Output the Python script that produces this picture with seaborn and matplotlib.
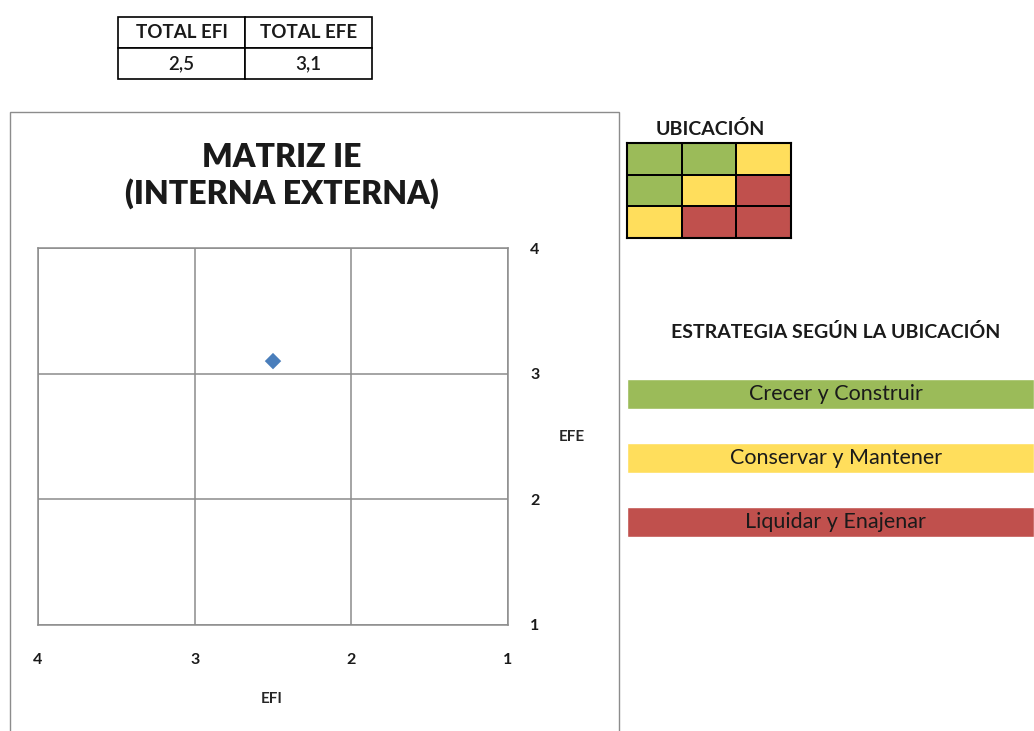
import numpy as np
import pandas as pd
import matplotlib
matplotlib.use("Agg")
import matplotlib.pyplot as plt
import seaborn as sns
from matplotlib.colors import ListedColormap
from matplotlib.patches import Rectangle

# data
total_efi = 2.5
total_efe = 3.1
table_headers = ["TOTAL EFI", "TOTAL EFE"]
table_values = ["2,5", "3,1"]
axis_ticks = [1, 2, 3, 4]
# 0 = crecer, 1 = conservar, 2 = liquidar
zone_codes = [[0, 0, 1],
              [0, 1, 2],
              [1, 2, 2]]
strategies = ["Crecer y Construir", "Conservar y Mantener", "Liquidar y Enajenar"]
zone_colors = ["#9BBB59", "#FFDE5C", "#C0504D"]

sns.set_theme(style="white")
plt.rcParams["font.family"] = ["Lato", "DejaVu Sans"]

W, H = 1034, 731
fig = plt.figure(figsize=(W / 100, H / 100), dpi=100)


def box(x0, y0, x1, y1):
    # pixel box (top-left origin) -> figure fraction
    return [x0 / W, 1 - y1 / H, (x1 - x0) / W, (y1 - y0) / H]


# chart frame
fig.patches.append(Rectangle((10 / W, -0.01), (619 - 10) / W, 1 - 112 / H + 0.01,
                             transform=fig.transFigure, fill=False,
                             edgecolor="#8c8c8c", linewidth=1.0))

# top table
tax = fig.add_axes(box(118, 17, 372, 79))
tax.axis("off")
tbl = tax.table(cellText=[table_headers, table_values], bbox=[0, 0, 1, 1], cellLoc="center")
tbl.auto_set_font_size(False)
for (r, c), cell in tbl.get_celld().items():
    cell.set_edgecolor("black")
    cell.set_linewidth(1.2)
    cell.get_text().set_fontsize(13.5)
    cell.get_text().set_color("#1a1a1a")
    if r == 0:
        cell.get_text().set_fontweight("bold")
    else:
        cell.get_text().set_fontweight("semibold")

# main IE matrix
ax = fig.add_axes(box(38, 248, 508, 625))
df = pd.DataFrame({"EFI": [total_efi], "EFE": [total_efe]})
sns.scatterplot(data=df, x="EFI", y="EFE", marker="D", s=70, color="#4A7EBB",
                edgecolor="none", ax=ax, zorder=3)
ax.set_xlim(4, 1)
ax.set_ylim(1, 4)
ax.set_xticks(axis_ticks)
ax.set_yticks(axis_ticks)
ax.grid(True, color="#8c8c8c", linewidth=1.1)
for s in ax.spines.values():
    s.set_color("#8c8c8c")
    s.set_linewidth(1.1)
ax.yaxis.tick_right()
ax.tick_params(axis="y", length=0, pad=16, labelsize=11.5)
ax.tick_params(axis="x", length=0, pad=20, labelsize=11.5)
for lbl in ax.get_xticklabels() + ax.get_yticklabels():
    lbl.set_fontweight("bold")
    lbl.set_color("#1a1a1a")
ax.set_xlabel("")
ax.set_ylabel("")
fig.text(272 / W, 1 - 699 / H, "EFI", ha="center", va="center", fontsize=11, fontweight="bold")
fig.text(572 / W, 1 - 437 / H, "EFE", ha="center", va="center", fontsize=11, fontweight="bold")
fig.text(282 / W, 1 - 176 / H, "MATRIZ IE\n(INTERNA EXTERNA)", ha="center", va="center",
         fontsize=23, fontweight="heavy", linespacing=1.25, color="#1a1a1a")

# ubicacion grid
gax = fig.add_axes(box(627, 143, 791, 238))
sns.heatmap(np.array(zone_codes), cmap=ListedColormap(zone_colors), vmin=-0.5, vmax=2.5,
            cbar=False, linewidths=1.2, linecolor="black", ax=gax,
            xticklabels=False, yticklabels=False)
for s in gax.spines.values():
    s.set_visible(True)
    s.set_color("black")
    s.set_linewidth(1.5)
fig.text(710 / W, 1 - 129 / H, "UBICACIÓN", ha="center", va="center", fontsize=14,
         fontweight="bold", color="#1a1a1a")

# strategies
fig.text(836 / W, 1 - 332 / H, "ESTRATEGIA SEGÚN LA UBICACIÓN", ha="center", va="center",
         fontsize=14, fontweight="bold", color="#1a1a1a")
sax = fig.add_axes(box(627, 362, 1034, 554))
sdf = pd.DataFrame({"estrategia": strategies, "valor": [1, 1, 1]})
sns.barplot(data=sdf, x="valor", y="estrategia", hue="estrategia", palette=zone_colors,
            width=0.48, legend=False, ax=sax, saturation=1)
sax.set_xlim(0, 1)
sax.axis("off")
for i, name in enumerate(strategies):
    sax.text(0.513, i, name, ha="center", va="center", fontsize=15.5, color="#1a1a1a")

fig.savefig("out.png", dpi=100)
